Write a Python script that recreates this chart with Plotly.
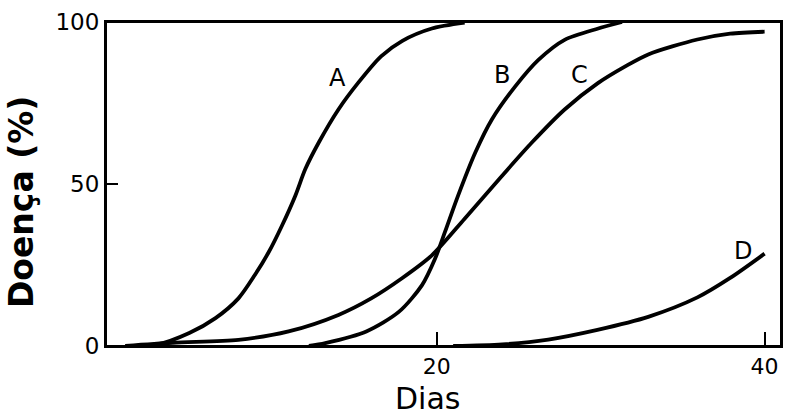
import plotly.graph_objects as go

# Data
a_x = [1, 2.9, 4.9, 6.5, 7.9, 8.9, 9.75, 10.56, 11.37, 11.98, 12.8, 14.0, 15.2, 16.6, 17.9, 19.7, 21.7]
a_y = [0, 0.4, 4.0, 8.6, 14.7, 21.9, 29, 37.2, 46.4, 54.6, 62.8, 73, 81.2, 89.4, 94.2, 98, 99.8]
b_x = [12.2, 13.2, 15.7, 17.7, 19.1, 19.9, 20.5, 21.3, 22.35, 23.36, 24.8, 26.2, 27.8, 29.85, 31.3]
b_y = [0, 0.9, 4.5, 10.6, 18.8, 27, 35.2, 46.4, 59.7, 69.9, 80.2, 88.3, 94.5, 98, 100]
c_x = [1, 3.9, 7.9, 10.96, 14.0, 16.0, 17.9, 19.7, 21.7, 23.8, 25.8, 27.8, 29.85, 31.5, 32.9, 35.9, 37.9, 40]
c_y = [0, 1, 1.9, 4.5, 9.6, 14.7, 21, 28, 39.3, 51.5, 62.8, 73, 81.2, 86.3, 90, 94.6, 96.4, 97]
d_x = [21, 24, 26.8, 29.8, 32.9, 35.9, 37.9, 40]
d_y = [0, 0.5, 2, 5, 9, 15, 21, 28.5]

curve_labels = ["A", "B", "C", "D"]
label_x = [13.94, 23.97, 28.7, 38.7]
label_y = [82.7, 83.7, 83.7, 29.4]

x_ticks = [20, 40]
y_ticks = [0, 50, 100]

fig = go.Figure()
for xs, ys in [(a_x, a_y), (b_x, b_y), (c_x, c_y), (d_x, d_y)]:
    fig.add_trace(go.Scatter(x=xs, y=ys, mode="lines", cliponaxis=False,
                             line=dict(color="black", width=3.8, shape="spline", smoothing=0.8),
                             showlegend=False, hoverinfo="skip"))

for t, x, y in zip(curve_labels, label_x, label_y):
    fig.add_annotation(x=x, y=y, text=t, showarrow=False,
                       font=dict(family="DejaVu Sans", size=24, color="black"))

fig.add_annotation(xref="paper", yref="paper", x=-0.124, y=0.445, text="<b>Doença (%)</b>",
                   textangle=-90, showarrow=False, xanchor="center", yanchor="middle",
                   font=dict(family="DejaVu Sans", size=33, color="black"))
fig.add_annotation(xref="paper", yref="paper", x=0.4756, y=-0.101, text="Dias",
                   showarrow=False, xanchor="center", yanchor="top",
                   font=dict(family="DejaVu Sans", size=30, color="black"))

# plot frame
fig.add_shape(type="rect", xref="paper", yref="paper", x0=0, y0=0, x1=1, y1=1,
              line=dict(color="black", width=2), layer="above")

fig.update_layout(
    width=792, height=415,
    margin=dict(l=106, r=9, t=19, b=69),
    paper_bgcolor="white", plot_bgcolor="white",
    xaxis=dict(range=[-0.18, 41.0], tickvals=x_ticks, ticktext=[str(v) for v in x_ticks],
               ticks="inside", ticklen=14, tickwidth=2, tickcolor="black",
               showline=True, linecolor="black", linewidth=2, mirror=True,
               showgrid=False, zeroline=False,
               tickfont=dict(family="DejaVu Sans", size=22, color="black")),
    yaxis=dict(range=[0, 100], tickvals=y_ticks, ticktext=[str(v) for v in y_ticks],
               ticks="inside", ticklen=12, tickwidth=2, tickcolor="black",
               showline=True, linecolor="black", linewidth=2, mirror=True,
               showgrid=False, zeroline=False,
               tickfont=dict(family="DejaVu Sans", size=23, color="black")),
)

fig.write_html("out.html", config={"displayModeBar": False},
               post_script="document.body.style.margin='0';document.body.style.overflow='hidden';")
